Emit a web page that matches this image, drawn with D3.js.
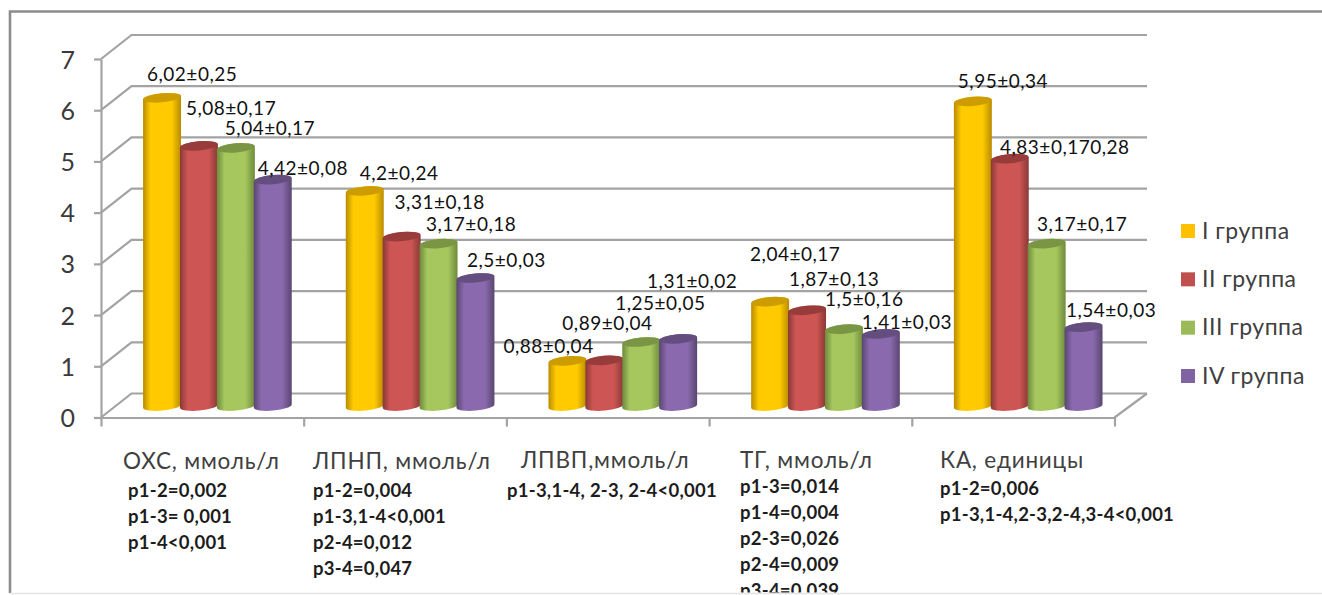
<!DOCTYPE html>
<html lang="ru">
<head>
<meta charset="utf-8">
<script src="https://cdn.jsdelivr.net/npm/d3@7"></script>
<style>
  html, body { margin: 0; background: #fff; overflow: hidden; }
  svg { display: block; font-family: Lato, "Noto Sans", sans-serif; }
  .axis path, .axis line, .wall { stroke: #a3a3a3; stroke-width: 2.2; fill: none; }
</style>
</head>
<body>
<svg id="chart" width="1322" height="595"></svg>
<script>
// Lipid profile by patient group
const categories = ["ОХС, ммоль/л", "ЛПНП, ммоль/л", "ЛПВП,ммоль/л", "ТГ, ммоль/л", "КА, единицы"];
const groups = ["I группа", "II группа", "III группа", "IV группа"];

const groupI = [6.02, 4.2, 0.88, 2.04, 5.95];
const groupII = [5.08, 3.31, 0.89, 1.87, 4.83];
const groupIII = [5.04, 3.17, 1.25, 1.5, 3.17];
const groupIV = [4.42, 2.5, 1.31, 1.41, 1.54];

const labelsI = ["6,02±0,25", "4,2±0,24", "0,88±0,04", "2,04±0,17", "5,95±0,34"];
const labelsII = ["5,08±0,17", "3,31±0,18", "0,89±0,04", "1,87±0,13", "4,83±0,170,28"];
const labelsIII = ["5,04±0,17", "3,17±0,18", "1,25±0,05", "1,5±0,16", "3,17±0,17"];
const labelsIV = ["4,42±0,08", "2,5±0,03", "1,31±0,02", "1,41±0,03", "1,54±0,03"];

const pValues = [
  ["p1-2=0,002", "p1-3= 0,001", "p1-4<0,001"],
  ["p1-2=0,004", "p1-3,1-4<0,001", "p2-4=0,012", "p3-4=0,047"],
  ["p1-3,1-4, 2-3, 2-4<0,001"],
  ["p1-3=0,014", "p1-4=0,004", "p2-3=0,026", "p2-4=0,009", "p3-4=0,039"],
  ["p1-2=0,006", "p1-3,1-4,2-3,2-4,3-4<0,001"]
];

const yTicks = [0, 1, 2, 3, 4, 5, 6, 7];

const seriesValues = [groupI, groupII, groupIII, groupIV];
const seriesLabels = [labelsI, labelsII, labelsIII, labelsIV];

// Colours per group: face centre, side shade, cap
const palette = [
  { mid: "#FFCB00", edge: "#B98B00", cap: "#CC9C00", swatch: "#FFC000" },
  { mid: "#CD5654", edge: "#8A3836", cap: "#973C3A", swatch: "#C0504D" },
  { mid: "#A5C75E", edge: "#6E8A3C", cap: "#7A9644", swatch: "#9BBB59" },
  { mid: "#8A69AE", edge: "#594671", cap: "#644E80", swatch: "#8064A2" }
];

// Hand-placed data label offsets from each bar's top-left, [dx, dy] by category then group
const labelOffsets = [
  [[4, -17], [6, -31], [8, -13], [4, -5]],
  [[14, -11], [12, -27.5], [6.5, -12.7], [10.6, -11]],
  [[-45, -8], [-23, -30], [-7, -32], [-12, -51]],
  [[-1, -40.6], [1, -24], [0, -23], [0, -4.8]],
  [[4, -13.4], [9.3, -4.7], [9.4, -12.7], [1.5, -10]]
];

// Category caption placement: left edge of the title, left edge of the p-lines, and their first baseline
const captionX = [123, 313, 521, 740, 940];
const captionBaseline = [469, 469, 468, 468, 468];
const pX = [128, 313, 507, 740, 940];
const pFirstBaseline = [497, 497, 497, 493, 495];
const pLineStep = 26;

const svg = d3.select("#chart");

// Oblique depth of the 3D plot box
const depth = { dx: 30.5, dy: -24 };
const frontLeft = 101, frontRight = 1114.5, backRight = 1147;
const y = d3.scaleLinear().domain([0, 7]).range([417.5, 59]);

// Bars stand on the middle of the floor, so their baseline is shifted from the front edge
const barBase = 406;
const barY = d3.scaleLinear().domain([0, 7]).range([barBase, barBase - 7 * 51.2]);

const x = d3.scaleBand().domain(categories).range([frontLeft, frontRight]).padding(0);
const xSeries = d3.scaleBand().domain(groups).range([42, 189.6]).padding(0);
const xEdges = d3.scaleLinear().domain([0, categories.length]).range([frontLeft, frontRight]);

// Outer border
svg.append("path").attr("d", "M1322,11.5H10V593").attr("fill", "none").attr("stroke", "#8c8c8c").attr("stroke-width", 2.6);

// Back wall gridlines and the floor outline
const wallLine = d3.line();
svg.append("g").selectAll("path").data(yTicks).join("path")
  .attr("class", "wall")
  .attr("d", t => wallLine([
    [frontLeft, y(t)],
    [frontLeft + depth.dx, y(t) + depth.dy],
    [backRight, y(t) + depth.dy]
  ]));
svg.append("path").attr("class", "wall")
  .attr("d", wallLine([
    [backRight, y(0) + depth.dy],
    [frontRight, y(0)]
  ]));

// Axes
const yAxis = svg.append("g").attr("class", "axis")
  .attr("transform", `translate(${frontLeft},0)`)
  .call(d3.axisLeft(y).tickValues(yTicks).tickFormat(d3.format("d")).tickSize(7).tickSizeOuter(0).tickPadding(19));
yAxis.selectAll("text").attr("font-size", 25).attr("fill", "#3a3a3a").attr("font-family", "Lato").attr("dy", "0.36em");

const xAxis = svg.append("g").attr("class", "axis")
  .attr("transform", `translate(0,${y(0)})`)
  .call(d3.axisBottom(xEdges).ticks(categories.length).tickSize(9).tickSizeOuter(0).tickFormat(""));

// Cylinders: horizontal shading, slightly tilted elliptical ends
const defs = svg.append("defs");
palette.forEach((c, i) => {
  const g = defs.append("linearGradient").attr("id", `cyl${i}`);
  [[0, c.edge], [0.2, c.mid], [0.75, c.mid], [1, c.edge]].forEach(([o, col]) =>
    g.append("stop").attr("offset", o).attr("stop-color", col));
});

const tilt = -5;
const ry = 4.6;
const barW = xSeries.bandwidth() + 1.2;
const rad = Math.abs(tilt) * Math.PI / 180;

const bars = categories.flatMap((cat, ci) =>
  groups.map((grp, si) => ({ cat, ci, grp, si, value: seriesValues[si][ci], label: seriesLabels[si][ci] })));

const barLeft = d => x(d.cat) + xSeries(d.grp);

const barG = svg.append("g").selectAll("g").data(bars).join("g");
barG.append("path")
  .attr("fill", d => `url(#cyl${d.si})`)
  .attr("d", d => {
    const rx = barW / 2, cx = barLeft(d) + rx;
    const dxE = rx * Math.cos(rad), dyE = rx * Math.sin(rad);
    const top = barY(d.value), base = barBase;
    return `M${cx - dxE},${top + dyE}L${cx - dxE},${base + dyE}` +
      `A${rx},${ry} ${tilt} 0 0 ${cx + dxE},${base - dyE}` +
      `L${cx + dxE},${top - dyE}` +
      `A${rx},${ry} ${tilt} 0 0 ${cx - dxE},${top + dyE}Z`;
  });
barG.append("ellipse")
  .attr("rx", barW / 2 - 0.5).attr("ry", ry)
  .attr("fill", d => palette[d.si].cap)
  .attr("transform", d => `translate(${barLeft(d) + barW / 2},${barY(d.value)}) rotate(${tilt})`);

// Value labels
svg.append("g").selectAll("text").data(bars).join("text")
  .attr("x", d => barLeft(d) + labelOffsets[d.ci][d.si][0])
  .attr("y", d => barY(d.value) + labelOffsets[d.ci][d.si][1])
  .attr("font-size", 19).attr("letter-spacing", 0.5).attr("fill", "#111")
  .text(d => d.label);

// Category titles and the p-value lines under them
svg.append("g").selectAll("text").data(categories).join("text")
  .attr("x", (d, i) => captionX[i]).attr("y", (d, i) => captionBaseline[i])
  .attr("font-size", 22.5).attr("letter-spacing", 0.8).attr("fill", "#404040")
  .text(d => d);

const pLayer = svg.append("g");
pValues.forEach((lines, ci) => {
  pLayer.selectAll(null).data(lines).join("text")
    .attr("x", pX[ci])
    .attr("y", (d, i) => pFirstBaseline[ci] + i * pLineStep)
    .attr("font-size", 18.5).attr("letter-spacing", 0.25).attr("font-weight", 700).attr("fill", "#1c1c1c")
    .text(d => d);
});

// Last p-line runs past the plot's lower edge
svg.append("rect").attr("x", 11.5).attr("y", 592.6).attr("width", 1310.5).attr("height", 3).attr("fill", "#fff");
svg.append("line").attr("x1", 10).attr("x2", 1322).attr("y1", 593.5).attr("y2", 593.5).attr("stroke", "#e4e4e4").attr("stroke-width", 1.5);

// Legend
const legendY = d3.scalePoint().domain(groups).range([231, 376]);
const legend = svg.append("g").selectAll("g").data(groups).join("g")
  .attr("transform", d => `translate(1181,${legendY(d)})`);
legend.append("rect").attr("x", 0).attr("y", -7).attr("width", 14).attr("height", 14)
  .attr("fill", (d, i) => palette[i].swatch);
legend.append("text").attr("x", 21).attr("y", 7.5).attr("font-size", 23).attr("letter-spacing", 0.5).attr("fill", "#404040").text(d => d);
</script>
</body>
</html>
